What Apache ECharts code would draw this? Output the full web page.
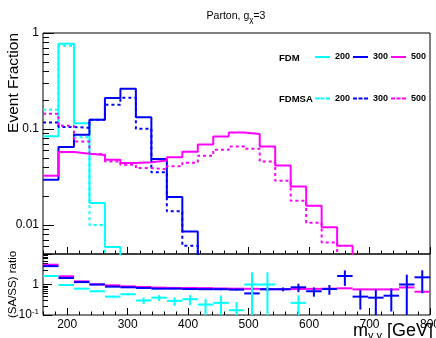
<!DOCTYPE html>
<html><head><meta charset="utf-8">
<script src="https://cdn.jsdelivr.net/npm/echarts@6/dist/echarts.min.js"></script>
<style>html,body{margin:0;padding:0;background:#fff}#c{width:436px;height:338px}</style>
</head><body><div id="c"></div>
<script>
// ---- data (m_gg bins, 160-800 GeV, 25 bins) ----
const binEdges = [160,185.6,211.2,236.8,262.4,288,313.6,339.2,364.8,390.4,416,441.6,467.2,492.8,518.4,544,569.6,595.2,620.8,646.4,672,697.6,723.2,748.8,774.4,800];
// Event fraction, FDM (solid) and FDMSA (dashed)
const fdm200   = [0.084,0.774,0.115,0.017,0.0059,0.003,0.002,0.0015,0.001,0.001,0.0008,0.0006,0.0005,0.0004,0.0003,0.0003,0.0002,0.0002,0.0001,0.0001,0.0001,0.0001,0.0001,0.0001,0.0001];
const fdmsa200 = [0.159,0.737,0.082,0.010,0.0024,0.0014,0.0006,0.0005,0.0003,0.0003,0.0002,0.0002,0.0001,0.0004,0.0003,0.0001,0.0001,0.0001,0.0001,0.0001,0.0001,0.0001,0.0001,0.0001,0.0001];
const fdm300   = [0.0296,0.065,0.087,0.125,0.21,0.263,0.133,0.0487,0.0196,0.0086,0.0035,0.002,0.0015,0.001,0.0008,0.0006,0.0005,0.0004,0.0003,0.0003,0.0002,0.0002,0.0002,0.0001,0.0001];
const fdmsa300 = [0.117,0.105,0.103,0.125,0.179,0.212,0.101,0.0355,0.0139,0.0061,0.0025,0.0014,0.001,0.0005,0.0006,0.0004,0.0004,0.0002,0.0002,0.0006,0.0001,0.0001,0.0001,0.0001,0.0002];
const fdm500   = [0.0327,0.0576,0.0553,0.0536,0.048,0.0442,0.045,0.047,0.051,0.058,0.069,0.0838,0.092,0.0887,0.0659,0.0418,0.0252,0.0159,0.0095,0.0061,0.003,0.002,0.0012,0.0008,0.0005];
const fdmsa500 = [0.144,0.108,0.074,0.055,0.046,0.0425,0.0392,0.038,0.041,0.0447,0.0527,0.061,0.0659,0.0623,0.046,0.029,0.0179,0.0106,0.0066,0.0045,0.0021,0.0014,0.0008,0.0006,0.0003];
// Ratio (SA/SS) and its error
const ratio200 = [1.9,0.96,0.73,0.6,0.4,0.48,0.3,0.37,0.29,0.33,0.22,0.25,0.143,1.0,1.0,null,0.25,null,null,null,null,null,null,null,null];
const err200   = [0.03,0.02,0.02,0.03,0.03,0.04,0.07,0.08,0.09,0.12,0.12,0.19,0.12,1.5,1.5,null,0.19,null,null,null,null,null,null,null,null];
const ratio300 = [4.0,1.63,1.2,1.0,0.85,0.81,0.77,0.73,0.73,0.71,0.7,0.7,0.68,0.51,0.7,0.7,0.81,0.6,0.71,1.9,0.4,0.37,0.43,1.0,1.72];
const err300   = [0.1,0.03,0.02,0.02,0.02,0.02,0.02,0.02,0.03,0.04,0.04,0.05,0.05,0.2,0.1,0.1,0.25,0.2,0.25,1.0,0.25,0.3,0.3,1.1,1.2];
const ratio500 = [4.46,1.86,1.27,1.01,0.94,0.87,0.83,0.79,0.77,0.77,0.76,0.74,0.73,0.72,0.7,0.7,0.71,0.72,0.73,0.75,0.69,0.69,0.69,0.8,0.58];
const err500   = [0.08,0.03,0.02,0.02,0.02,0.02,0.02,0.02,0.02,0.02,0.02,0.02,0.02,0.02,0.02,0.02,0.03,0.03,0.03,0.04,0.04,0.04,0.05,0.05,0.06];
// ticks / labels
const xMajorTicks = [200,300,400,500,600,700,800];
const xMinorTicks = [160,180,200,220,240,260,280,300,320,340,360,380,400,420,440,460,480,500,520,540,560,580,600,620,640,660,680,700,720,740,760,780,800];
const yTopMajor = [0.01,0.1,1];
const yTopMinor = [0.005,0.006,0.007,0.008,0.009,0.02,0.03,0.04,0.05,0.06,0.07,0.08,0.09,0.2,0.3,0.4,0.5,0.6,0.7,0.8,0.9];
const yTopLabels = {'0.01':'0.01','0.1':'0.1','1':'1'};
const yBotMajor = [0.1,1,10];
const yBotMinor = [0.2,0.3,0.4,0.5,0.6,0.7,0.8,0.9,2,3,4,5,6,7,8,9];

const FONT = 'Liberation Sans, Arial, Helvetica, sans-serif';
const C200 = '#00ffff', C300 = '#0000ff', C500 = '#ff00ff';

function stepData(vals){ return binEdges.map((e,i)=>[e, vals[Math.min(i, vals.length-1)]]); }
function ratioData(vals, errs){
  return vals.map((v,i)=>[binEdges[i], binEdges[i+1], v==null?'-':v, errs[i]==null?0:errs[i]]);
}
function ratioItem(params, api){
  const v = api.value(2);
  if (v === '-' || v == null || isNaN(v)) return null;
  const lo = api.value(0), hi = api.value(1), e = api.value(3);
  const mid = (lo+hi)/2;
  const a = api.coord([lo, v]), b = api.coord([hi, v]);
  const t = api.coord([mid, Math.min(v+e, 20)]);
  const d = api.coord([mid, Math.max(v-e, 0.05)]);
  const st = {stroke: api.visual('color'), lineWidth: 2};
  return {type:'group', children:[
    {type:'line', shape:{x1:a[0],y1:a[1],x2:b[0],y2:b[1]}, style:st},
    {type:'line', shape:{x1:t[0],y1:t[1],x2:d[0],y2:d[1]}, style:st}
  ]};
}
function lineSeries(name, vals, color, dashed){
  return {name, type:'line', step:'end', xAxisIndex:0, yAxisIndex:0, symbol:'none', clip:true,
    data: stepData(vals), lineStyle:{color, width:2, type: dashed ? [3,3] : 'solid'}, itemStyle:{color},
    animation:false, silent:true};
}
function ratioSeries(name, vals, errs, color){
  return {name, type:'custom', xAxisIndex:2, yAxisIndex:2, clip:true, renderItem: ratioItem,
    encode:{x:[0,1], y:2}, data: ratioData(vals, errs), itemStyle:{color}, animation:false, silent:true};
}
const axTxt = {color:'#000', fontFamily:FONT, fontSize:12};
function xAx(grid, ticks, len, labels){
  return {type:'value', gridIndex:grid, min:160, max:800, position:'bottom',
    axisLine:{show:false}, splitLine:{show:false},
    axisTick:{show:true, inside:true, length:len, customValues:ticks, lineStyle:{color:'#000', width:1}},
    axisLabel: labels ? Object.assign({show:true, customValues:labels, margin:4}, axTxt) : {show:false}};
}
function yAx(grid, min, max, ticks, len, labels, fmt){
  return {type:'log', logBase:10, gridIndex:grid, min, max, position:'left',
    axisLine:{show:false}, splitLine:{show:false},
    axisTick:{show:true, inside:true, length:len, customValues:ticks, lineStyle:{color:'#000', width:1}},
    axisLabel: labels ? Object.assign({show:true, customValues:labels, margin:4, formatter:fmt,
        rich:{b:{fontSize:12, fontFamily:FONT, color:'#000'}, s:{fontSize:8, fontFamily:FONT, color:'#000', padding:[0,0,6,0]}}}, axTxt) : {show:false}};
}
const DASH_ICON = 'path://M0,0h4v2h-4z M5.5,0h4v2h-4z M11,0h4v2h-4z';
function legendRow(names, top, icon){
  return {data: names.map(n=>({name:n, icon})), left:315, top, padding:0, itemWidth:15, itemHeight:2, itemGap:3,
    selectedMode:false, formatter:n=>n.split(' ')[1],
    textStyle:{fontSize:9, fontWeight:'bold', fontFamily:FONT, color:'#000'}};
}

const chart = echarts.init(document.getElementById('c'), null, {renderer:'canvas'});
chart.setOption({
  backgroundColor:'#fff',
  animation:false,
  grid:[
    {left:43, top:33, width:387, height:221, show:true, borderColor:'#000', borderWidth:1, backgroundColor:'transparent', outerBoundsMode:'none', containLabel:false},
    {left:43, top:254, width:387, height:61, show:true, borderColor:'#000', borderWidth:1, backgroundColor:'transparent', outerBoundsMode:'none', containLabel:false}
  ],
  xAxis:[
    xAx(0, xMajorTicks, 7, null),
    xAx(0, xMinorTicks, 3.5, null),
    xAx(1, xMajorTicks, 7, xMajorTicks),
    xAx(1, xMinorTicks, 3.5, null)
  ],
  yAxis:[
    yAx(0, 0.005, 1, yTopMajor, 11, yTopMajor, v => yTopLabels[String(+(+v).toPrecision(3))] || String(v)),
    yAx(0, 0.005, 1, yTopMinor, 6, null),
    yAx(1, 0.1, 10, yBotMajor, 9, [0.1,1], v => (v < 0.5 ? '{b|10}{s|-1}' : '1')),
    yAx(1, 0.1, 10, yBotMinor, 5, null)
  ],
  legend:[
    legendRow(['FDM 200','FDM 300','FDM 500'], 52.5, 'rect'),
    legendRow(['FDMSA 200','FDMSA 300','FDMSA 500'], 94, DASH_ICON)
  ],
  graphic:[
    {type:'text', x:236, y:16, style:{text:'{a|Parton, g}{s|χ}{a|=3}', align:'center', verticalAlign:'middle', textAlign:'center', textVerticalAlign:'middle',
      rich:{a:{fontSize:10.5, fontFamily:FONT, fill:'#000', color:'#000', lineHeight:14}, s:{fontSize:8, fontFamily:FONT, fill:'#000', color:'#000', padding:[7,0,0,0]}}}},
    {type:'text', x:279, y:58, style:{text:'FDM', font:'bold 9.5px '+FONT, fill:'#000', verticalAlign:'middle', textVerticalAlign:'middle'}},
    {type:'text', x:279, y:99.5, style:{text:'FDMSA', font:'bold 9.5px '+FONT, fill:'#000', verticalAlign:'middle', textVerticalAlign:'middle'}},
    {type:'text', x:14, y:33, rotation:Math.PI/2, style:{text:'Event Fraction', font:'15.5px '+FONT, fill:'#000', align:'right', textAlign:'right', verticalAlign:'middle', textVerticalAlign:'middle'}},
    {type:'text', x:13, y:318, rotation:Math.PI/2, style:{text:'(SA/SS) ratio', font:'11.5px '+FONT, fill:'#000', align:'left', textAlign:'left', verticalAlign:'middle', textVerticalAlign:'middle'}},
    {type:'text', x:433, y:331, style:{text:'{m|m}{s|γ γ}{m| [GeV]}', align:'right', textAlign:'right', verticalAlign:'middle', textVerticalAlign:'middle',
      rich:{m:{fontSize:18, fontFamily:FONT, fill:'#000', color:'#000', lineHeight:20}, s:{fontSize:11, fontFamily:FONT, fill:'#000', color:'#000', padding:[9,0,0,0]}}}}
  ],
  series:[
    lineSeries('FDM 200', fdm200, C200, false),
    lineSeries('FDM 300', fdm300, C300, false),
    lineSeries('FDM 500', fdm500, C500, false),
    lineSeries('FDMSA 200', fdmsa200, C200, true),
    lineSeries('FDMSA 300', fdmsa300, C300, true),
    lineSeries('FDMSA 500', fdmsa500, C500, true),
    ratioSeries('R500', ratio500, err500, C500),
    ratioSeries('R300', ratio300, err300, C300),
    ratioSeries('R200', ratio200, err200, C200)
  ]
});
</script></body></html>
